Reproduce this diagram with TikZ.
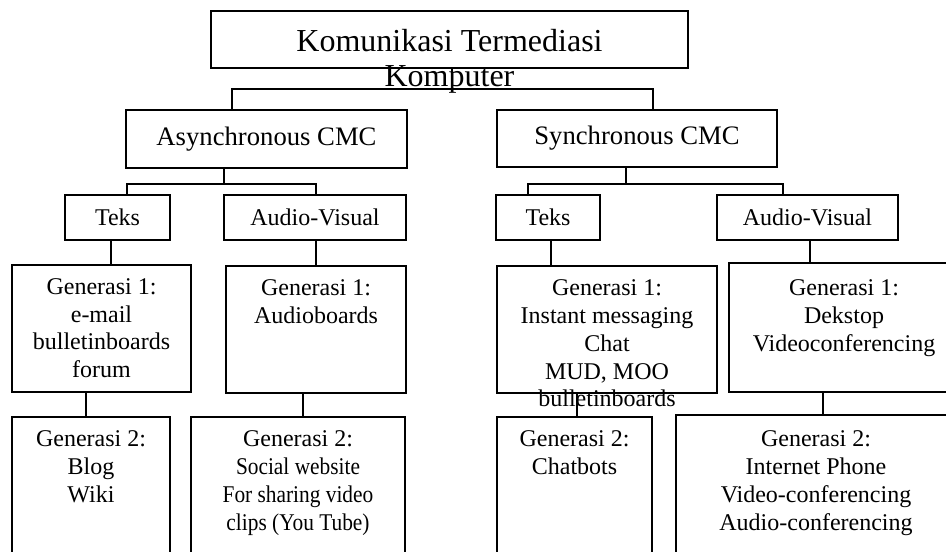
\documentclass[tikz,border=0pt]{standalone}
\usepackage{fontspec}
\setmainfont{Liberation Serif}
\newfontfamily\narrowserif[FakeStretch=0.89]{Liberation Serif}
\usetikzlibrary{calc,fit}

\begin{document}
\begin{tikzpicture}[x=0.75pt, y=-0.75pt, line width=1.4pt,
  box/.style={draw, rectangle, inner sep=0pt},
  txt/.style={align=center, anchor=north, inner sep=0pt, font=\fontsize{18}{20.8}\selectfont},
  one/.style={inner sep=0pt, font=\fontsize{18}{20.8}\selectfont}]
  \useasboundingbox (0,0) rectangle (946,551);
  \clip (0,0) rectangle (946,551);

  % boxes
  \node[box, fit={(211,11) (688,68)}] (kmt) {};
  \node[box, fit={(126,110) (407,168)}] (asy) {};
  \node[box, fit={(497,110) (777,167)}] (syn) {};
  \node[box, fit={(65,195) (170,240)}] (teksA) {};
  \node[box, fit={(224,195) (406,240)}] (avA) {};
  \node[box, fit={(496,195) (600,240)}] (teksS) {};
  \node[box, fit={(717,195) (898,240)}] (avS) {};
  \node[box, fit={(12,265) (191,392)}] (genTA) {};
  \node[box, fit={(226,266) (406,393)}] (genVA) {};
  \node[box, fit={(497,266) (717,393)}] (genTS) {};
  \node[box, fit={(729,263) (959,392)}] (genVS) {};
  \node[box, fit={(12,417) (170,570)}] (genTAb) {};
  \node[box, fit={(191,417) (405,570)}] (genVAb) {};
  \node[box, fit={(497,417) (652,570)}] (genTSb) {};
  \node[box, fit={(676,415) (956,570)}] (genVSb) {};

  % texts
  \node[align=center, anchor=north, inner sep=0pt, font=\fontsize{24}{26.25}\selectfont]
    (kmtT) at ($(kmt.north)+(0,18)$) {Komunikasi Termediasi\\Komputer};
  \node[inner sep=0pt, font=\fontsize{20}{24}\selectfont] (asyT) at (asy) {Asynchronous CMC};
  \node[inner sep=0pt, font=\fontsize{20}{24}\selectfont] (synT) at (syn) {Synchronous CMC};
  \node[one] (teksAT) at (teksA) {Teks};
  \node[one] (avAT) at (avA) {Audio-Visual};
  \node[one] (teksST) at (teksS) {Teks};
  \node[one] (avST) at (avS) {Audio-Visual};
  \node[txt] (genTAT) at ($(genTA.north)+(0,13.5)$) {Generasi 1:\\e-mail\\bulletinboards\\forum};
  \node[txt] (genVAT) at ($(genVA.north)+(0,13.5)$) {Generasi 1:\\Audioboards};
  \node[txt] (genTST) at ($(genTS.north)+(0,14)$) {Generasi 1:\\Instant messaging\\Chat\\MUD, MOO\\bulletinboards};
  \node[txt] (genVST) at ($(genVS.north)+(0,17)$) {Generasi 1:\\Dekstop\\Videoconferencing};
  \node[txt] (genTAbT) at ($(genTAb.north)+(0,14)$) {Generasi 2:\\Blog\\Wiki};
  \node[txt] (genVAbT) at ($(genVAb.north)+(0,14)$) {Generasi 2:\\\narrowserif Social website\\\narrowserif For sharing video\\\narrowserif clips (You Tube)};
  \node[txt] (genTSbT) at ($(genTSb.north)+(0,14)$) {Generasi 2:\\Chatbots};
  \node[txt] (genVSbT) at ($(genVSb.north)+(0,16)$) {Generasi 2:\\Internet Phone\\Video-conferencing\\Audio-conferencing};

  % connectors
  \coordinate (b1) at (452,89);
  \coordinate (b1l) at (232,89);
  \coordinate (b1r) at (653,89);
  \draw (kmt.south -| b1) -- (b1);
  \draw (asy.north -| b1l) -- (b1l) -- (b1r) -- (syn.north -| b1r);

  \coordinate (b2) at (224,184);
  \coordinate (b2l) at (127,184);
  \coordinate (b2r) at (316,184);
  \draw (asy.south -| b2) -- (b2);
  \draw (teksA.north -| b2l) -- (b2l) -- (b2r) -- (avA.north -| b2r);

  \coordinate (b3) at (626,184);
  \coordinate (b3l) at (528,184);
  \coordinate (b3r) at (783,184);
  \draw (syn.south -| b3) -- (b3);
  \draw (teksS.north -| b3l) -- (b3l) -- (b3r) -- (avS.north -| b3r);

  \coordinate (c1) at (111,0);
  \coordinate (c2) at (316,0);
  \coordinate (c3) at (551,0);
  \coordinate (c4) at (810,0);
  \draw (teksA.south -| c1) -- (genTA.north -| c1);
  \draw (avA.south -| c2) -- (genVA.north -| c2);
  \draw (teksS.south -| c3) -- (genTS.north -| c3);
  \draw (avS.south -| c4) -- (genVS.north -| c4);

  \coordinate (d1) at (86,0);
  \coordinate (d2) at (303,0);
  \coordinate (d3) at (577,0);
  \coordinate (d4) at (823,0);
  \draw (genTA.south -| d1) -- (genTAb.north -| d1);
  \draw (genVA.south -| d2) -- (genVAb.north -| d2);
  \draw (genTS.south -| d3) -- (genTSb.north -| d3);
  \draw (genVS.south -| d4) -- (genVSb.north -| d4);
\end{tikzpicture}
\end{document}
